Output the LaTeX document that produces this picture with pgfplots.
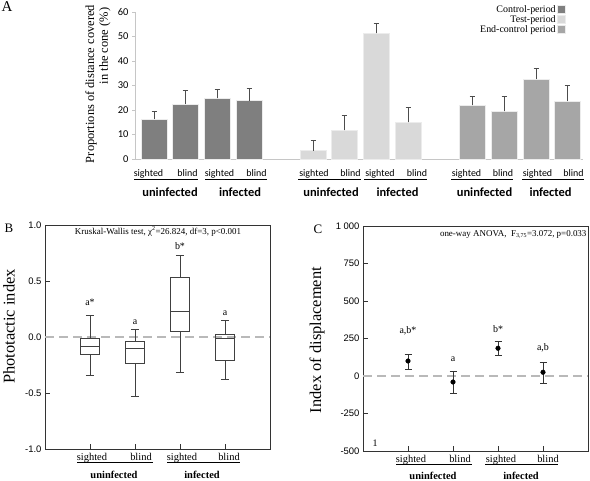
\documentclass[border=0pt]{standalone}
\usepackage{fontspec}
\setmainfont{Liberation Serif}
\newfontfamily\carlito{Carlito}
\newfontfamily\arial{Liberation Sans}
\usepackage{pgfplots}
\pgfplotsset{compat=1.18}
\usepgfplotslibrary{statistics}
\definecolor{ctrl}{HTML}{7F7F7F}
\definecolor{testc}{HTML}{D9D9D9}
\definecolor{endc}{HTML}{A6A6A6}
\begin{document}
\begin{tikzpicture}
\path[use as bounding box] (0,0) rectangle (590bp,481bp);
% ---------------- Panel A ----------------
\begin{axis}[at={(135bp,322bp)}, anchor=south west, scale only axis,
 width=448bp, height=147bp,
 xmin=135, xmax=583, ymin=0, ymax=60,
 axis lines*=left, axis line style={gray!45, line width=0.8bp},
 xtick=\empty, ytick={0,10,...,60}, tick align=outside, major tick length=3bp,
 tick style={gray!45, line width=0.6bp},
 yticklabel style={font=\carlito\fontsize{10.5}{12}\selectfont},
 /pgf/number format/assume math mode=true,
 clip=false,
 legend style={at={(axis cs:566,63.5)}, anchor=north east, draw=none, fill=none,
   font=\fontsize{10}{11}\selectfont, cells={anchor=east}, inner sep=0pt,
   nodes={inner sep=1.5bp}, row sep=-1.2bp},
 legend plot pos=right,
 legend image code/.code={\fill[#1] (0bp,-4bp) rectangle (8bp,4bp);},
 every axis plot/.append style={ybar, bar width=26, bar shift=0pt, draw=white!85!gray, line width=0.6bp,
   error bars/y dir=plus, error bars/y explicit,
   error bars/error bar style={black!70, line width=0.9bp},
   error bars/error mark options={rotate=90, black!70, mark size=2.5bp, line width=0.9bp}},
]
\addplot[fill=ctrl] coordinates {(154,16.3) +- (0,3.2) (185,22.4) +- (0,5.4) (217,24.7) +- (0,3.8) (249,23.8) +- (0,5.1)};
\addlegendentry{Control-period}
\addplot[fill=testc] coordinates {(313,3.4) +- (0,4.1) (344,11.7) +- (0,5.9) (376,51.3) +- (0,4.2) (408,14.9) +- (0,6.0)};
\addlegendentry{Test-period}
\addplot[fill=endc] coordinates {(472,21.9) +- (0,3.8) (504,19.4) +- (0,6.0) (536,32.6) +- (0,4.2) (567,23.6) +- (0,6.3)};
\addlegendentry{End-control period}
\end{axis}
% Panel A texts
\node[font=\fontsize{15}{16}\selectfont] at (7bp,474bp) {A};
\node[rotate=90, font=\fontsize{12.5}{14}\selectfont] at (91bp,397bp) {Proportions of distance covered};
\node[rotate=90, font=\fontsize{12.5}{14}\selectfont] at (105bp,435bp) {in the cone (\%)};
\begin{scope}[every node/.style={font=\carlito\fontsize{10}{11}\selectfont, anchor=base, inner sep=0pt}]
\node at (148.5bp,304bp) {sighted}; \node at (187.5bp,304bp) {blind};
\node at (219.5bp,304bp) {sighted}; \node at (256.5bp,304bp) {blind};
\node at (314bp,304bp) {sighted}; \node at (350.5bp,304bp) {blind};
\node at (380bp,304bp) {sighted}; \node at (417bp,304bp) {blind};
\node at (466.5bp,304bp) {sighted}; \node at (503bp,304bp) {blind};
\node at (537.5bp,304bp) {sighted}; \node at (573.5bp,304bp) {blind};
\end{scope}
\begin{scope}[line width=0.6bp]
\draw (134bp,301.5bp) -- (198bp,301.5bp); \draw (205bp,301.5bp) -- (267bp,301.5bp);
\draw (298bp,301.5bp) -- (361bp,301.5bp); \draw (364bp,301.5bp) -- (427bp,301.5bp);
\draw (451bp,301.5bp) -- (513bp,301.5bp); \draw (522bp,301.5bp) -- (584bp,301.5bp);
\end{scope}
\begin{scope}[every node/.style={font=\carlito\bfseries\fontsize{12.5}{13}\selectfont, anchor=base, inner sep=0pt}]
\node at (170bp,284bp) {uninfected}; \node at (240bp,284bp) {infected};
\node at (331bp,284bp) {uninfected}; \node at (397.5bp,284bp) {infected};
\node at (484.5bp,284bp) {uninfected}; \node at (550.5bp,284bp) {infected};
\end{scope}
% ---------------- Panel B ----------------
\begin{axis}[at={(45bp,32bp)}, anchor=south west, scale only axis,
 width=225bp, height=224bp,
 xmin=0, xmax=5, ymin=-1, ymax=1,
 xtick={1,2,3,4}, xticklabels={}, ytick={-1,-0.5,0,0.5,1}, yticklabels={-1.0,-0.5,0.0,0.5,1.0},
 tick align=inside, xtick pos=bottom, ytick pos=left, major tick length=5bp,
 axis line style={black!80, line width=0.6bp}, tick style={black!80, line width=0.6bp},
 yticklabel style={font=\arial\fontsize{9.5}{11}\selectfont},
 clip=false,
 boxplot/draw direction=y,
 every axis plot/.append style={black!75, line width=0.8bp, solid},
]
\addplot[gray!55, line width=1.3bp, dash pattern=on 9bp off 5bp] coordinates {(0,0) (5,0)};
\addplot[boxplot prepared={draw position=1, lower whisker=-0.344, lower quartile=-0.159, median=-0.088, upper quartile=-0.016, upper whisker=0.195, box extend=0.42, whisker extend=0.18}] coordinates {};
\addplot[boxplot prepared={draw position=2, lower whisker=-0.528, lower quartile=-0.24, median=-0.10, upper quartile=-0.037, upper whisker=0.067, box extend=0.42, whisker extend=0.18}] coordinates {};
\addplot[boxplot prepared={draw position=3, lower whisker=-0.32, lower quartile=0.049, median=0.228, upper quartile=0.531, upper whisker=0.73, box extend=0.42, whisker extend=0.18}] coordinates {};
\addplot[boxplot prepared={draw position=4, lower whisker=-0.38, lower quartile=-0.21, median=-0.016, upper quartile=0.025, upper whisker=0.145, box extend=0.42, whisker extend=0.18}] coordinates {};
\begin{scope}[every node/.style={font=\fontsize{10}{11}\selectfont, inner sep=0pt}]
\node at (axis cs:1,0.31) {a*};
\node at (axis cs:2,0.135) {a};
\node at (axis cs:3,0.81) {b*};
\node at (axis cs:4,0.21) {a};
\end{scope}
\node[font=\fontsize{9}{10}\selectfont, inner sep=0pt] at (axis cs:2.51,0.94) {Kruskal-Wallis test, χ\textsuperscript{2}=26.824, df=3, p<0.001};
\end{axis}
\node[font=\fontsize{13}{14}\selectfont] at (9bp,253bp) {B};
\node[rotate=90, font=\fontsize{16.5}{18}\selectfont] at (9bp,154.5bp) {Phototactic index};
% ---------------- Panel C ----------------
\begin{axis}[at={(363bp,30bp)}, anchor=south west, scale only axis,
 width=225bp, height=225bp,
 xmin=0, xmax=5, ymin=-500, ymax=1000,
 xtick={1,2,3,4}, xticklabels={}, ytick={-500,-250,0,250,500,750,1000},
 yticklabels={-500,-250,0,250,500,750,1 000},
 tick align=inside, xtick pos=bottom, ytick pos=left, major tick length=5bp,
 axis line style={black!80, line width=0.6bp}, tick style={black!80, line width=0.6bp},
 yticklabel style={font=\arial\fontsize{9.5}{11}\selectfont},
 clip=false,
]
\addplot[gray!55, line width=1.3bp, dash pattern=on 9bp off 5bp] coordinates {(0,0) (5,0)};
\addplot[only marks, mark=*, mark size=2.3bp, black,
 error bars/.cd, y dir=both, y explicit,
 error bar style={black!80, line width=0.7bp},
 error mark options={rotate=90, mark size=3.5bp, black!80, line width=0.7bp}]
 coordinates {(1,100) += (0,43) -= (0,53) (2,-40) += (0,69) -= (0,78) (3,185) += (0,45) -= (0,49) (4,25) += (0,69) -= (0,76)};
\begin{scope}[every node/.style={font=\fontsize{10}{11}\selectfont, inner sep=0pt}]
\node at (axis cs:1,301) {a,b*};
\node at (axis cs:2,112) {a};
\node at (axis cs:3,310) {b*};
\node at (axis cs:4,190) {a,b};
\node at (axis cs:0.27,-447) {1};
\end{scope}
\node[font=\fontsize{9}{10}\selectfont, inner sep=0pt, anchor=east] at (axis cs:4.97,945) {one-way ANOVA,\ \ F\textsubscript{3,75}=3.072, p=0.033};
\end{axis}
\node[font=\fontsize{13}{14}\selectfont] at (318bp,252bp) {C};
\node[rotate=90, font=\fontsize{16.5}{18}\selectfont] at (317bp,141bp) {Index of displacement};
% x labels B and C
\begin{scope}[every node/.style={font=\fontsize{10.5}{11}\selectfont, anchor=base, inner sep=0pt}]
\node at (92bp,21bp) {sighted}; \node at (141bp,21bp) {blind};
\node at (182bp,21bp) {sighted}; \node at (229bp,21bp) {blind};
\node at (411bp,19bp) {sighted}; \node at (460bp,19bp) {blind};
\node at (501bp,19bp) {sighted}; \node at (548bp,19bp) {blind};
\end{scope}
\begin{scope}[line width=0.6bp]
\draw (77bp,18.5bp) -- (153bp,18.5bp); \draw (167bp,18.5bp) -- (240bp,18.5bp);
\draw (396bp,16.5bp) -- (472bp,16.5bp); \draw (485bp,16.5bp) -- (558bp,16.5bp);
\end{scope}
\begin{scope}[every node/.style={font=\bfseries\fontsize{10.5}{11}\selectfont, anchor=base, inner sep=0pt}]
\node at (114bp,2.5bp) {uninfected}; \node at (202bp,2.5bp) {infected};
\node at (433bp,1.5bp) {uninfected}; \node at (521bp,1.5bp) {infected};
\end{scope}
\end{tikzpicture}
\end{document}
